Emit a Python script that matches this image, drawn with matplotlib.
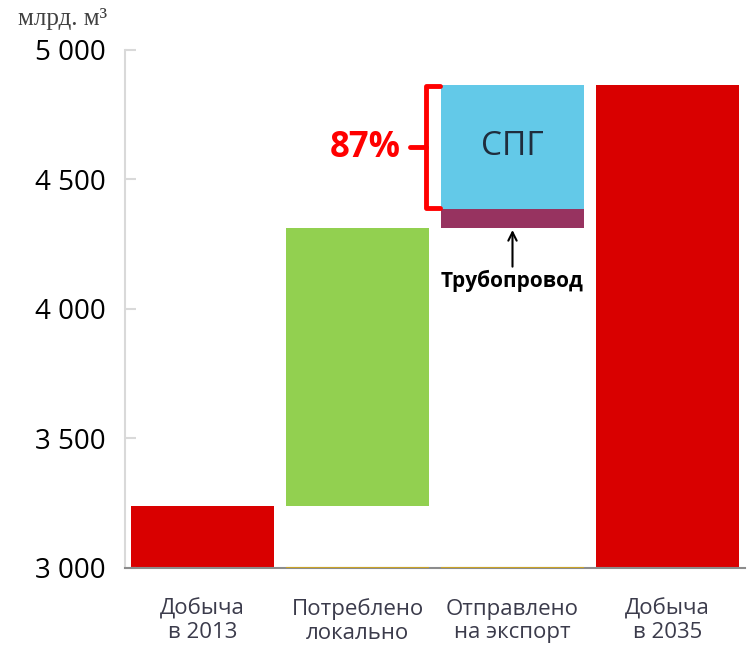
import matplotlib.pyplot as plt
import numpy as np

# data (bln m3)
categories = ['Добыча\nв 2013', 'Потреблено\nлокально', 'Отправлено\nна экспорт', 'Добыча\nв 2035']
prod_2013 = 3240
local_top = 4313
pipe_top = 4386
lng_top = 4865
prod_2035 = 4865
y_ticks = [3000, 3500, 4000, 4500, 5000]
y_tick_labels = ['3 000', '3 500', '4 000', '4 500', '5 000']
base = 3000

c_red = '#d90000'
c_green = '#92d050'
c_blue = '#63c9e8'
c_purple = '#973360'

x = np.arange(len(categories))
w = 0.92

fig = plt.figure(figsize=(7.5, 6.51), dpi=100)
ax = fig.add_axes([0.1667, 0.1275, 0.8266, 0.7957])

# waterfall bars
ax.bar(x[0], prod_2013 - base, w, bottom=base, color=c_red)
ax.bar(x[1], local_top - prod_2013, w, bottom=prod_2013, color=c_green)
ax.bar(x[2], pipe_top - local_top, w, bottom=local_top, color=c_purple)
ax.bar(x[2], lng_top - pipe_top, w, bottom=pipe_top, color=c_blue)
ax.bar(x[3], prod_2035 - base, w, bottom=base, color=c_red)

# thin gold base under the floating bars
ax.hlines([base, base], x[1:3] - w / 2, x[1:3] + w / 2, colors='#c9a227', lw=1.5, zorder=3)

ax.set_xlim(-0.5, 3.5)
ax.set_ylim(3000, 5000)
ax.set_yticks(y_ticks)
ax.set_yticklabels(y_tick_labels, fontsize=20, family='Open Sans')
ax.set_xticks(x)
ax.set_xticklabels(categories, fontsize=16, family='Open Sans', color='#3b3b4b', linespacing=1.15)
ax.tick_params(axis='y', direction='in', length=8, color='#d9d9d9', width=1.5, pad=14)
ax.tick_params(axis='x', length=0, pad=22)

for s in ['top', 'right']:
    ax.spines[s].set_visible(False)
ax.spines['left'].set_color('#d9d9d9')
ax.spines['left'].set_linewidth(1.5)
ax.spines['bottom'].set_color('#8c8c8c')
ax.spines['bottom'].set_linewidth(1.5)

# unit label
fig.text(0.024, 0.962, 'млрд. м³', family='Liberation Serif', fontsize=18, color='#404040', va='baseline')

# annotations
ax.text(x[2], (pipe_top + lng_top) / 2, 'СПГ', ha='center', va='center', fontsize=24,
        family='Open Sans', color='#1f2d3d')

ax.annotate('Трубопровод', xy=(x[2], local_top - 8), xytext=(x[2], 4110),
            ha='center', va='center', fontsize=15, fontweight='bold', family='Open Sans',
            arrowprops=dict(arrowstyle='->', color='black', lw=1.5, shrinkB=0, shrinkA=0))

# bracket for LNG share
bx = x[2] - w / 2 - 0.1
hook = 0.09
ax.plot([bx + hook, bx, bx, bx + hook], [lng_top - 5, lng_top - 5, pipe_top + 5, pipe_top + 5],
        color='red', lw=3.5, solid_capstyle='round', solid_joinstyle='round')
mid = (pipe_top + lng_top) / 2
ax.plot([bx, bx - 0.1], [mid, mid], color='red', lw=3.5, solid_capstyle='round')
ax.text(bx - 0.16, mid - 5, '87%', ha='right', va='center', fontsize=25, fontweight='bold',
        color='red', family='Open Sans')

plt.savefig('out.png', dpi=100)
